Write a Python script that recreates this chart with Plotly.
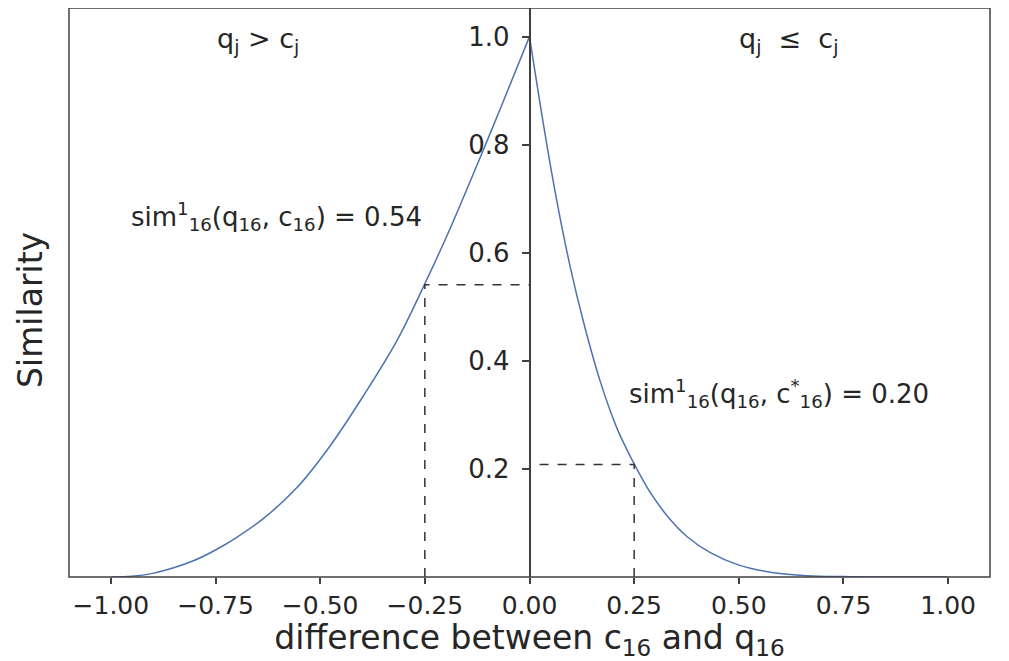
import plotly.graph_objects as go

# curve, left (q > c) and right (q <= c) halves
left_x = [-1.0, -0.95, -0.9, -0.85, -0.8, -0.75, -0.7, -0.636, -0.556, -0.476, -0.397, -0.317, -0.251, -0.189, -0.118, -0.07, 0.0]
left_y = [0.0, 0.0014, 0.0067, 0.017, 0.031, 0.05, 0.073, 0.108, 0.165, 0.243, 0.335, 0.437, 0.541, 0.646, 0.776, 0.866, 1.0]

right_x = [0.0, 0.0375, 0.065, 0.097, 0.129, 0.169, 0.209, 0.23, 0.251, 0.288, 0.328, 0.376, 0.432, 0.5, 0.583, 0.663, 0.75, 0.85, 1.0]
right_y = [1.0, 0.818, 0.697, 0.575, 0.472, 0.362, 0.275, 0.24, 0.208, 0.157, 0.114, 0.075, 0.045, 0.022, 0.008, 0.0025, 0.0008, 0.0001, 0.0]

# marked points
mark_x = [-0.25, 0.25]
mark_y = [0.541, 0.208]
mark_text = ['sim<sup>1</sup><sub>16</sub>(q<sub>16</sub>, c<sub>16</sub>) = 0.54',
             'sim<sup>1</sup><sub>16</sub>(q<sub>16</sub>, c<sup>*</sup><sub>16</sub>) = 0.20']

x_ticks = [-1.0, -0.75, -0.5, -0.25, 0.0, 0.25, 0.5, 0.75, 1.0]
x_ticktext = ['\u22121.00', '\u22120.75', '\u22120.50', '\u22120.25', '0.00', '0.25', '0.50', '0.75', '1.00']
y_ticks = [0.2, 0.4, 0.6, 0.8, 1.0]
y_ticktext = ['0.2', '0.4', '0.6', '0.8', '1.0']

TXT = '#262626'
SPINE = '#404040'
BLUE = '#4c72b0'
FONT = 'DejaVu Sans'

fig = go.Figure()
fig.add_trace(go.Scatter(x=left_x, y=left_y, mode='lines', line=dict(color=BLUE, width=1.5, shape='spline', smoothing=1.0)))
fig.add_trace(go.Scatter(x=right_x, y=right_y, mode='lines', line=dict(color=BLUE, width=1.5, shape='spline', smoothing=1.0)))

# dashed guides down to the axis and across to the centre spine
for mx, my in zip(mark_x, mark_y):
    fig.add_trace(go.Scatter(x=[mx, mx, 0], y=[0, my, my], mode='lines',
                             line=dict(color='#333333', width=1.5, dash='dash')))

fig.add_annotation(x=-0.648, y=0.993, text='q<sub>j</sub> > c<sub>j</sub>', showarrow=False,
                   font=dict(size=27, color=TXT, family=FONT))
fig.add_annotation(x=0.619, y=0.993, text='q<sub>j</sub>  \u2264  c<sub>j</sub>', showarrow=False,
                   font=dict(size=27, color=TXT, family=FONT))
fig.add_annotation(x=-0.605, y=0.667, text=mark_text[0], showarrow=False,
                   font=dict(size=26, color=TXT, family=FONT))
fig.add_annotation(x=0.595, y=0.339, text=mark_text[1], showarrow=False,
                   font=dict(size=26, color=TXT, family=FONT))

# y title sits at the left edge, the y axis itself is in the middle
fig.add_annotation(x=-0.042, y=0.47, xref='paper', yref='paper', text='Similarity', textangle=-90,
                   showarrow=False, xanchor='center', yanchor='middle', font=dict(size=33, color=TXT, family=FONT))

# frame
fig.add_shape(type='rect', xref='paper', yref='paper', x0=0, y0=0, x1=1, y1=1,
              line=dict(color=SPINE, width=1.5), layer='above')

# page body adds 8px, so the figure is a bit smaller than the window
fig.update_layout(
    width=1001, height=653,
    margin=dict(l=61, r=19, t=0, b=84),
    paper_bgcolor='white', plot_bgcolor='white',
    showlegend=False,
    font=dict(family=FONT, color=TXT),
    xaxis=dict(range=[-1.1, 1.1], tickvals=x_ticks, ticktext=x_ticktext,
               ticks='outside', ticklen=6, tickwidth=1.5, tickcolor=SPINE,
               showgrid=False, zeroline=False, showline=False,
               tickfont=dict(size=25, color=TXT),
               title=dict(text='difference between c<sub>16</sub> and q<sub>16</sub>',
                          font=dict(size=33, color=TXT), standoff=2)),
    yaxis=dict(range=[0, 1.053], tickvals=y_ticks, ticktext=y_ticktext,
               anchor='free', position=0.5,
               ticks='outside', ticklen=7, tickwidth=1.5, tickcolor=SPINE,
               ticklabelstandoff=7,
               showgrid=False, zeroline=False, showline=True, linecolor=SPINE, linewidth=1.5,
               tickfont=dict(size=26, color=TXT)),
)

fig.write_html('out.html')
